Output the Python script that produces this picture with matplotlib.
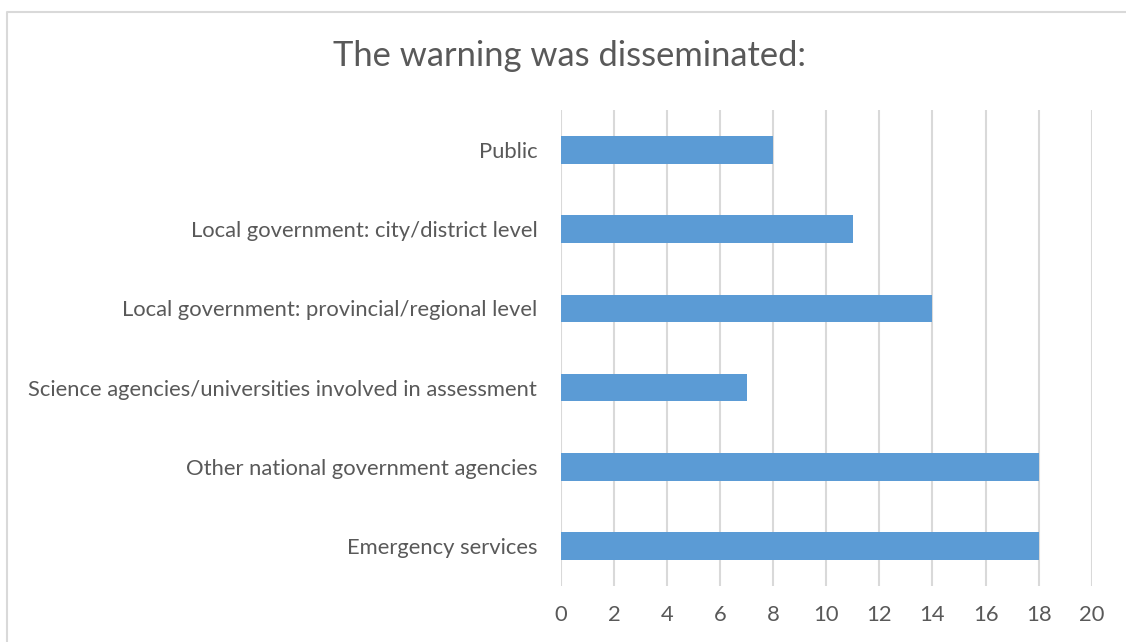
import matplotlib
matplotlib.use("Agg")
import matplotlib.pyplot as plt
from matplotlib.lines import Line2D

categories = [
    "Emergency services",
    "Other national government agencies",
    "Science agencies/universities involved in assessment",
    "Local government: provincial/regional level",
    "Local government: city/district level",
    "Public",
]
counts = [18, 18, 7, 14, 11, 8]
x_ticks = [0, 2, 4, 6, 8, 10, 12, 14, 16, 18, 20]
title = "The warning was disseminated:"

plt.rcParams["font.family"] = ["Lato", "DejaVu Sans"]
text_color = "#595959"
grid_color = "#D9D9D9"
bar_color = "#5B9BD5"

fig = plt.figure(figsize=(11.26, 6.42), dpi=100)
ax = fig.add_axes([0.4982, 0.0879, 0.4713, 0.7401])

ypos = list(range(len(categories)))
ax.barh(ypos, counts, height=0.35, color=bar_color, zorder=3)

ax.set_xlim(0, 20)
ax.set_ylim(-0.5, len(categories) - 0.5)
ax.set_xticks(x_ticks)
ax.set_xticklabels([str(t) for t in x_ticks])
ax.set_yticks(ypos)
ax.set_yticklabels(categories)

ax.grid(axis="x", color=grid_color, linewidth=1.5, zorder=0)
for s in ax.spines.values():
    s.set_visible(False)
ax.tick_params(axis="both", length=0, labelsize=15.8, labelcolor=text_color)
ax.tick_params(axis="x", pad=14)
ax.tick_params(axis="y", pad=17)

fig.text(0.506, 0.912, title, ha="center", va="center", fontsize=24.8, color=text_color)

# chart frame edges
fig.add_artist(Line2D([0.0062, 0.0062, 1.0], [0.0, 0.9813, 0.9813],
                      transform=fig.transFigure, color=grid_color, linewidth=1.5))

fig.savefig("out.png", dpi=100)
